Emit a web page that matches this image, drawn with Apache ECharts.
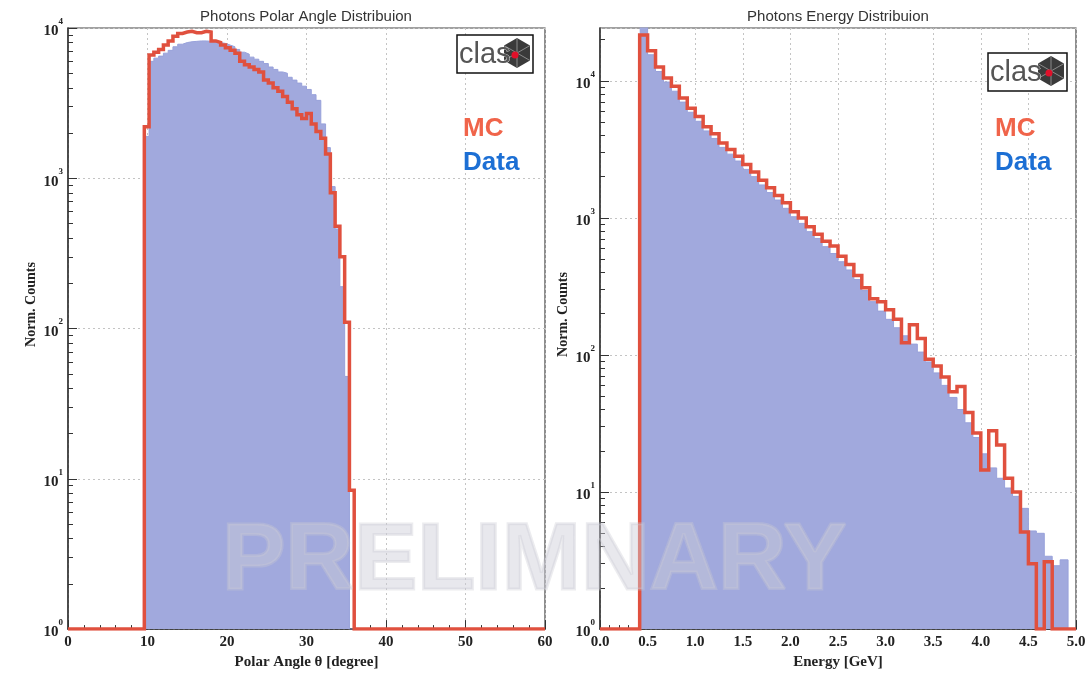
<!DOCTYPE html>
<html><head><meta charset="utf-8">
<script src="https://cdn.jsdelivr.net/npm/echarts@6/dist/echarts.min.js"></script>
<style>html,body{margin:0;padding:0;background:#fff}#c{width:1089px;height:675px}</style>
</head><body><div id="c"></div>
<script>
// ---------- DATA ----------
// Polar angle histogram: 0.6 degree bins, first filled bin starts at 9.6 deg
const polarBinWidth = 0.6;
const polarFirstEdge = 9.6;
const polarRange = [0, 60];
const polarMC = [2200, 6600, 6900, 7200, 7700, 8200, 8800, 9200, 9400, 9500, 9300, 9300, 9500, 9400,
  8200, 8000, 7700, 7400, 7100, 6800, 6000, 5700, 5500, 5300, 5100, 4500, 4300, 4000, 3800, 3500,
  3200, 2900, 2650, 2500, 2700, 2300, 2050, 1850, 1450, 800, 480, 300, 110, 8.4];
const polarData = [1900, 6000, 6300, 6500, 6800, 7100, 7500, 7800, 8000, 8100, 8150, 8200, 8200, 8150,
  8100, 8000, 7900, 7700, 7500, 7200, 6900, 6700, 6400, 6200, 6000, 5800, 5500, 5300, 5100, 5000,
  4700, 4500, 4300, 4100, 3900, 3600, 3300, 2300, 1600, 880, 460, 190, 48, 0];
// Energy histogram: 1/12 GeV bins, first filled bin starts at 5/12 GeV
const energyBinWidth = 1 / 12;
const energyFirstEdge = 5 / 12;
const energyRange = [0, 5];
const energyMC = [21600, 16600, 12600, 10500, 9120, 7500, 6310, 5500, 4620, 4120, 3520, 3160, 2820, 2450,
  2160, 1880, 1660, 1460, 1290, 1110, 1000, 861, 759, 676, 624, 525, 457, 380, 309, 257, 245, 214, 182,
  123, 166, 132, 93, 83, 69, 54, 59, 38, 27, 14.5, 28, 22, 12.6, 10, 5.1, 3.0, 0, 3.1, 0, 0, 0];
const energyData = [31600, 15500, 11700, 9800, 8400, 7000, 5900, 5070, 4310, 3800, 3270, 2920, 2600, 2260,
  2000, 1740, 1530, 1350, 1175, 1020, 912, 794, 708, 617, 550, 479, 417, 355, 295, 245, 209, 182, 158,
  138, 120, 105, 89, 74, 60, 49, 40, 32, 25, 19, 15, 12.6, 10.7, 9.3, 7.6, 5.2, 5.0, 3.4, 2.9, 3.2, 0];
const polarYRange = [1, 1e4];
const energyYRange = [1, 24300];
const polarTitle = 'Photons Polar Angle Distribuion';
const energyTitle = 'Photons Energy Distribuion';
const polarXName = 'Polar Angle θ [degree]';
const energyXName = 'Energy [GeV]';
const yName = 'Norm. Counts';
const legendLabels = ['MC', 'Data'];

// ---------- BUILD ----------
function histPoints(values, firstEdge, width, range, floor, pad) {
  const pts = [];
  if (pad && firstEdge > range[0]) pts.push([range[0], floor]);
  values.forEach((v, i) => pts.push([+(firstEdge + i * width).toFixed(5), v > 0 ? v : floor]));
  const end = +(firstEdge + values.length * width).toFixed(5);
  pts.push([end, floor]);
  if (pad && end < range[1]) pts.push([range[1], floor]);
  return pts;
}
function minorLogTicks(maxV) {
  const out = [];
  for (let d = 1; d < maxV; d *= 10) for (let k = 2; k <= 9; k++) { if (k * d < maxV) out.push(k * d); }
  return out;
}
const serif = 'Liberation Serif', sans = 'Liberation Sans';
const dark = '#333';
const gridCol = '#c4c4c4';
const blueFill = '#a1a9dd', blueEdge = '#98a1da', red = '#e0503e';
const richY = {
  b: { fontFamily: serif, fontWeight: 'bold', fontSize: 15, color: '#222', lineHeight: 22, verticalAlign: 'bottom' },
  s: { fontFamily: serif, fontWeight: 'bold', fontSize: 9, color: '#222', lineHeight: 12, verticalAlign: 'top' }
};
function logLabel(v) { return '{b|10}{s|' + Math.round(Math.log10(v)) + '}'; }

function xAxisCfg(gi, range, interval, name, fmt) {
  return {
    gridIndex: gi, type: 'value', min: range[0], max: range[1], interval: interval,
    axisLine: { show: true, onZero: false, lineStyle: { color: dark, width: 1.5 } },
    axisTick: { show: true, inside: true, length: 9, lineStyle: { color: dark } },
    minorTick: { show: true, splitNumber: 5, length: 4, lineStyle: { color: dark } },
    splitLine: { show: true, lineStyle: { color: gridCol, type: [2, 3] } },
    axisLabel: { fontFamily: serif, fontWeight: 'bold', fontSize: 15, color: '#222', margin: 6, formatter: fmt },
    name: name, nameLocation: 'middle', nameGap: 24,
    nameTextStyle: { fontFamily: serif, fontWeight: 'bold', fontSize: 15, color: '#222' }
  };
}
function yAxisCfg(gi, range, namePad) {
  return {
    gridIndex: gi, type: 'log', logBase: 10, min: range[0], max: range[1], position: 'left',
    axisLine: { show: true, lineStyle: { color: dark, width: 1.5 } },
    axisTick: { show: true, inside: true, length: 9, lineStyle: { color: dark } },
    splitLine: { show: true, lineStyle: { color: gridCol, type: [2, 3] } },
    axisLabel: { formatter: logLabel, rich: richY, margin: 5, showMaxLabel: range[1] === 1e4 },
    name: yName, nameLocation: 'middle', nameGap: 30,
    nameTextStyle: { fontFamily: serif, fontWeight: 'bold', fontSize: 14, color: '#222', padding: namePad }
  };
}
function yMinorCfg(gi, range) {
  return {
    gridIndex: gi, type: 'log', logBase: 10, min: range[0], max: range[1], position: 'left', offset: 0,
    axisLine: { show: false }, axisLabel: { show: false }, splitLine: { show: false },
    axisTick: { show: true, inside: true, length: 5, lineStyle: { color: dark }, customValues: minorLogTicks(range[1]) }
  };
}
function seriesFill(xi, yi, pts) {
  return { type: 'line', xAxisIndex: xi, yAxisIndex: yi, data: pts, step: 'end', symbol: 'none',
    lineStyle: { width: 1, color: blueEdge }, areaStyle: { color: blueFill, opacity: 1, origin: 'start' },
    z: 2, clip: true, animation: false, silent: true };
}
function seriesLine(xi, yi, pts) {
  return { type: 'line', xAxisIndex: xi, yAxisIndex: yi, data: pts, step: 'end', symbol: 'none',
    lineStyle: { width: 3.5, color: red, join: 'miter' }, z: 5, clip: true, animation: false, silent: true };
}
function logo(x, y, w, h) {
  const cx = x + w - 16, cy = y + h / 2 - 1, r = 15;
  const hex = [];
  for (let k = 0; k < 6; k++) { const a = Math.PI / 6 + k * Math.PI / 3; hex.push([cx + r * Math.cos(a), cy + r * Math.sin(a)]); }
  const spokes = hex.map((p) => ({ type: 'line', shape: { x1: cx, y1: cy, x2: p[0], y2: p[1] },
    style: { stroke: '#8a8a8a', lineWidth: 1 }, z: 21 }));
  return [
    { type: 'rect', shape: { x: x, y: y, width: w, height: h }, style: { fill: '#fff', stroke: '#111', lineWidth: 1.5 }, z: 20 },
    { type: 'polygon', shape: { points: hex }, style: { fill: '#3a3a3a' }, z: 20 },
    ...spokes,
    { type: 'text', x: x + 2, y: y + h / 2 + 1, style: { text: 'clas', fontFamily: sans, fontSize: 29, fill: '#555',
      stroke: '#fff', lineWidth: 0.6, verticalAlign: 'middle', align: 'left' }, z: 22 },
    { type: 'circle', shape: { cx: cx - 2, cy: cy + 2, r: 3.5 }, style: { fill: '#e0102a' }, z: 23 }
  ];
}
function legendTexts(x) {
  return [
    { type: 'text', x: x, y: 129, style: { text: legendLabels[0], fontFamily: sans, fontWeight: 'bold', fontSize: 26, fill: '#f0644a', verticalAlign: 'middle' }, z: 20 },
    { type: 'text', x: x, y: 163, style: { text: legendLabels[1], fontFamily: sans, fontWeight: 'bold', fontSize: 26, fill: '#1c6fd4', verticalAlign: 'middle' }, z: 20 }
  ];
}

const option = {
  backgroundColor: '#fff',
  animation: false,
  grid: [
    { left: 68, top: 28, width: 477, height: 603, show: true, borderColor: '#444', borderWidth: 1.2, containLabel: false },
    { left: 600, top: 28, width: 476, height: 603, show: true, borderColor: '#444', borderWidth: 1.2, containLabel: false }
  ],
  xAxis: [
    xAxisCfg(0, polarRange, 10, polarXName, v => String(v)),
    xAxisCfg(1, energyRange, 0.5, energyXName, v => v.toFixed(1))
  ],
  yAxis: [
    yAxisCfg(0, polarYRange, [0, 0, 0, 48]), yMinorCfg(0, polarYRange),
    yAxisCfg(1, energyYRange, [0, 0, 0, 28]), yMinorCfg(1, energyYRange)
  ],
  series: [
    seriesFill(0, 0, histPoints(polarData, polarFirstEdge, polarBinWidth, polarRange, polarYRange[0], false)),
    seriesLine(0, 0, histPoints(polarMC, polarFirstEdge, polarBinWidth, polarRange, polarYRange[0], true)),
    seriesFill(1, 2, histPoints(energyData, energyFirstEdge, energyBinWidth, energyRange, energyYRange[0], false)),
    seriesLine(1, 2, histPoints(energyMC, energyFirstEdge, energyBinWidth, energyRange, energyYRange[0], true))
  ],
  graphic: [
    { type: 'text', x: 306, y: 17, style: { text: polarTitle, fontFamily: sans, fontSize: 15, fill: '#333', align: 'center', verticalAlign: 'middle' }, z: 20 },
    { type: 'text', x: 838, y: 17, style: { text: energyTitle, fontFamily: sans, fontSize: 15, fill: '#333', align: 'center', verticalAlign: 'middle' }, z: 20 },
    { type: 'text', x: 222, y: 563, zlevel: 1, style: { text: 'PRELIMNARY', fontFamily: sans, fontWeight: 'bold', fontSize: 95,
      fill: 'rgba(205,205,214,0.45)', stroke: 'rgba(200,200,210,0.35)', lineWidth: 3, verticalAlign: 'middle', align: 'left' } },
    ...logo(457, 35, 76, 38),
    ...logo(988, 53, 79, 38),
    ...legendTexts(463),
    ...legendTexts(995)
  ]
};
const chart = echarts.init(document.getElementById('c'), null, { renderer: 'canvas' });
chart.setOption(option);
</script>
</body></html>
